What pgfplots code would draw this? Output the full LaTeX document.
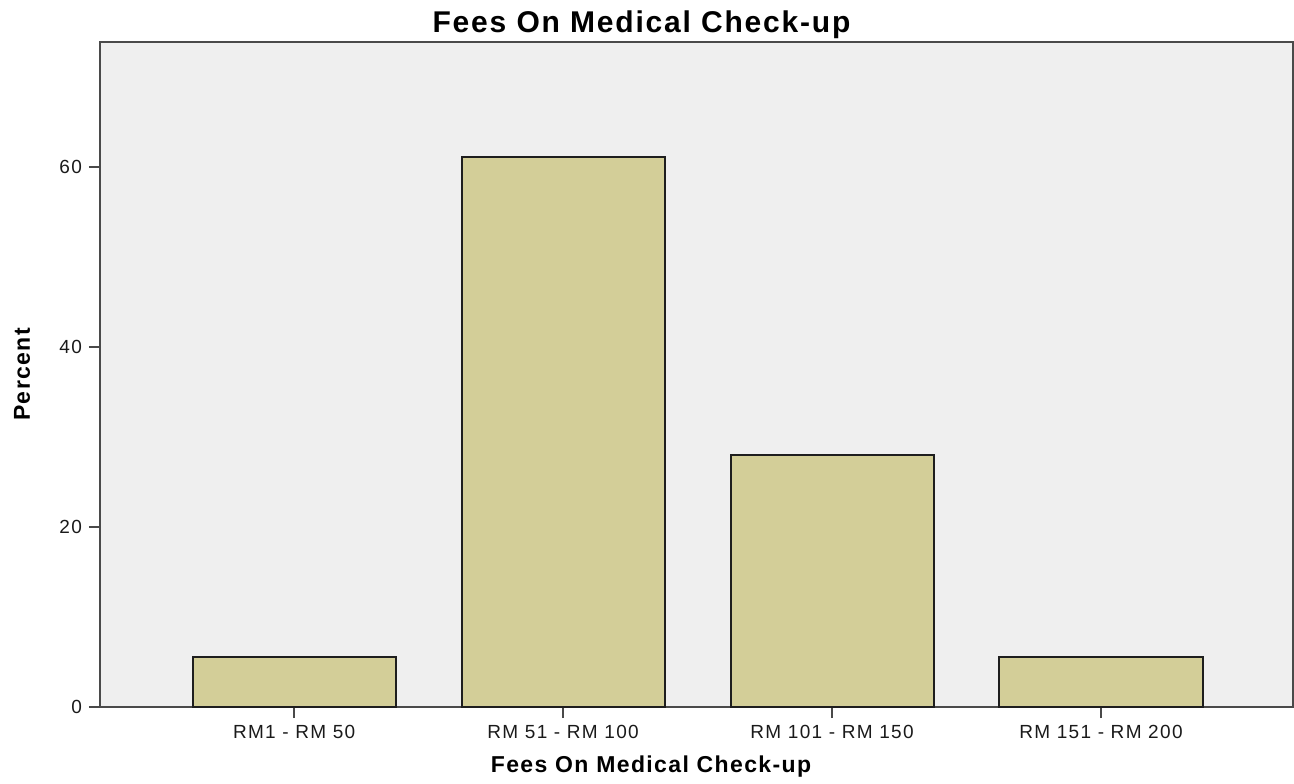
\documentclass[border=0pt]{standalone}
\usepackage{fontspec}
\setmainfont{Liberation Sans}
\newfontfamily\lblfont[LetterSpace=6]{Liberation Sans}
\newfontfamily\tckfont[LetterSpace=7]{Liberation Sans}
\usepackage{pgfplots}
\pgfplotsset{compat=1.18}
\definecolor{plotbg}{HTML}{EFEFEF}
\definecolor{barfill}{HTML}{D3CE98}
\definecolor{barline}{HTML}{1E1E1E}
\definecolor{axisc}{HTML}{4A4A4A}
\definecolor{ink}{HTML}{1A1A1A}
\begin{document}
\begin{tikzpicture}
\begin{axis}[
  at={(0,0)}, anchor=south west,
  scale only axis, width=596.5pt, height=332.5pt,
  xmin=-0.722, xmax=3.714, ymin=0, ymax=73.85,
  ybar, bar width=0.755, bar shift=0pt,
  axis background/.style={fill=plotbg},
  axis line style={axisc, line width=1pt},
  tick pos=left, tick align=outside, major tick length=5.5pt,
  tick style={axisc, line width=0.9pt},
  xtick={0,1,2,3},
  xticklabels={{RM1 - RM 50},{RM 51 - RM 100},{RM 101 - RM 150},{RM 151 - RM 200}},
  ytick={0,20,40,60},
  /pgf/number format/assume math mode=true,
  tick label style={font=\tckfont\fontsize{9.5}{11}\selectfont, color=ink},
  xlabel={Fees On Medical Check-up},
  xlabel style={at={(axis description cs:0.4619,-0.0992)}, anchor=base, yshift=0pt,
    font=\lblfont\bfseries\fontsize{11.5}{13}\selectfont, color=black},
  ylabel={Percent},
  ylabel style={at={(axis description cs:-0.0654,0.5)}, anchor=center,
    font=\lblfont\bfseries\fontsize{11.5}{13}\selectfont, color=black},
  title={Fees On Medical Check-up},
  every axis title shift=0pt,
  title style={at={(axis description cs:0.4539,1.015)}, anchor=base, yshift=0pt,
    font=\lblfont\bfseries\fontsize{15}{17}\selectfont, color=black},
]
\addplot[fill=barfill, draw=barline, line width=1pt] coordinates {(0,5.6) (1,61.1) (2,28.0) (3,5.6)};
\end{axis}
\pgfresetboundingbox
\path[use as bounding box] (-50pt,-38pt) rectangle (597pt,353.5pt);
\end{tikzpicture}
\end{document}
